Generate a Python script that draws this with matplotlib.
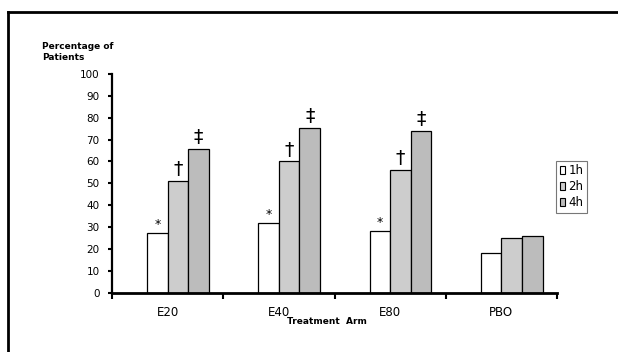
import matplotlib
matplotlib.use("Agg")
import matplotlib.pyplot as plt
from matplotlib.lines import Line2D
from matplotlib.patches import Patch
import numpy as np

categories = ["E20", "E40", "E80", "PBO"]
series_names = ["1h", "2h", "4h"]
vals_1h = [27.1, 31.7, 28.2, 18.3]
vals_2h = [51.1, 60.0, 56.1, 25.2]
vals_4h = [65.8, 75.5, 74.1, 25.8]
marks_1h = ["*", "*", "*", ""]
marks_2h = ["\u2020", "\u2020", "\u2020", ""]
marks_4h = ["\u2021", "\u2021", "\u2021", ""]
y_ticks = [0, 10, 20, 30, 40, 50, 60, 70, 80, 90, 100]

W, H = 618, 352
fig = plt.figure(figsize=(W / 100, H / 100), dpi=100)
plt.rcParams['font.family'] = ['Liberation Sans Narrow', 'DejaVu Sans']

# frame lines (top and left)
fig.add_artist(Line2D([8 / W, 1.0], [1 - 12 / H, 1 - 12 / H], color='black', lw=2, transform=fig.transFigure))
fig.add_artist(Line2D([8 / W, 8 / W], [1 - 12 / H, 0.0], color='black', lw=2, transform=fig.transFigure))

left, right = 112 / W, 557 / W
bottom, top = 1 - 292.7 / H, 1 - 74 / H
ax = fig.add_axes([left, bottom, right - left, top - bottom])

x = np.arange(len(categories))
w = 0.185
colors = ["white", "#cdcdcd", "#bcbcbc"]
all_vals = [vals_1h, vals_2h, vals_4h]
all_marks = [marks_1h, marks_2h, marks_4h]
offsets = [-0.5, 0.5, 1.5]
for vals, c, off, mk in zip(all_vals, colors, offsets, all_marks):
    ax.bar(x + off * w, vals, width=w, color=c, edgecolor='black', linewidth=0.9, zorder=2)
    for xi, v, m in zip(x + off * w, vals, mk):
        if m:
            if m == "*":
                ax.text(xi, v + 1.0, m, ha='center', va='bottom', fontsize=9, family='DejaVu Sans')
            else:
                ax.text(xi, v + 0.8, m, ha='center', va='bottom', fontsize=13.5, family='DejaVu Sans')

ax.set_xlim(-0.5, len(categories) - 0.5)
ax.set_ylim(0, 100)
ax.set_yticks(y_ticks)
ax.set_yticklabels([str(t) for t in y_ticks], fontsize=7.5)
ax.set_xticks(x)
ax.set_xticklabels(categories, fontsize=8.5)
ax.set_xticks(np.arange(len(categories) + 1) - 0.5, minor=True)
ax.tick_params(axis='x', which='major', length=0, pad=9.5)
ax.tick_params(axis='x', which='minor', length=4, width=1.5, direction='out')
ax.tick_params(axis='y', which='major', length=3, width=1.5, direction='out', pad=6)
for s in ['top', 'right']:
    ax.spines[s].set_visible(False)
ax.spines['left'].set_linewidth(1.6)
ax.spines['bottom'].set_linewidth(2.0)
ax.patch.set_alpha(0)

fig.text(42 / W, 1 - 52 / H, "Percentage of\nPatients", fontsize=6.5, fontweight='bold',
         family='DejaVu Sans', ha='left', va='center', linespacing=1.3)
fig.text(327 / W, 1 - 322 / H, "Treatment  Arm", fontsize=6.5, fontweight='bold',
         family='DejaVu Sans', ha='center', va='center')

handles = [Patch(facecolor=c, edgecolor='black', linewidth=0.8) for c in colors]
leg = fig.legend(handles, series_names, loc='upper left', bbox_to_anchor=(556 / W, 1 - 160.7 / H),
                 frameon=True, fancybox=False, fontsize=8.5, handlelength=0.5, handleheight=0.7,
                 handletextpad=0.25, borderpad=0.3, labelspacing=0.25, borderaxespad=0)
leg.get_frame().set_edgecolor('#555555')
leg.get_frame().set_linewidth(0.8)

fig.savefig("out.png", dpi=100)
